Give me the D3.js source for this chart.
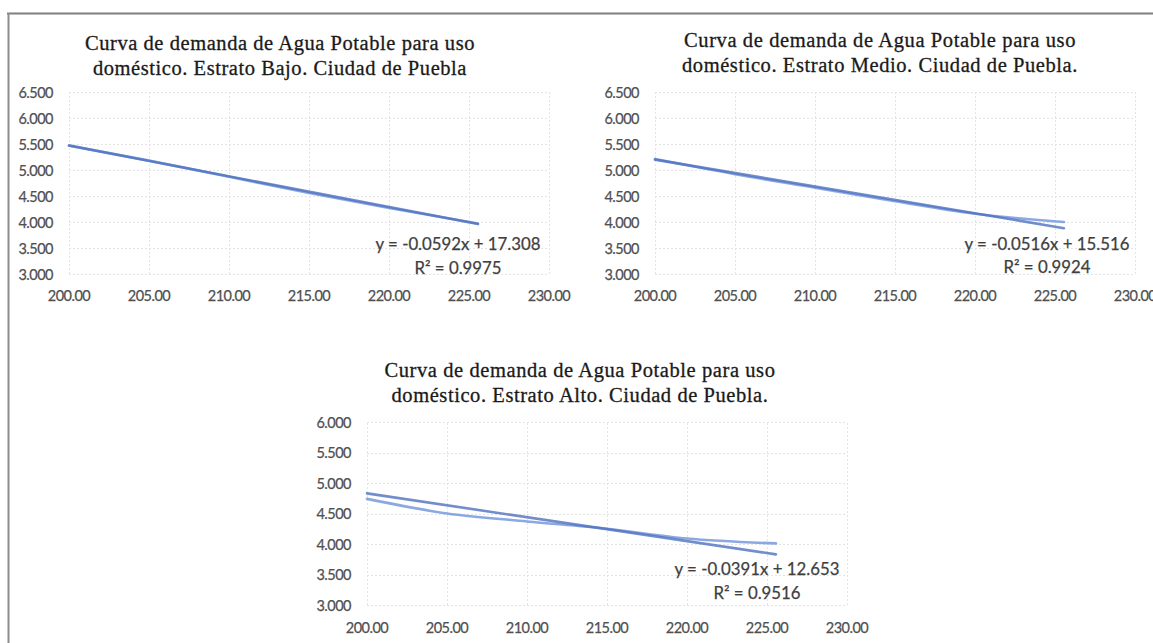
<!DOCTYPE html>
<html>
<head>
<meta charset="utf-8">
<script src="https://cdn.jsdelivr.net/npm/d3@7"></script>
<style>
  html, body { margin: 0; padding: 0; background: #fff; }
  svg { display: block; }
</style>
</head>
<body>
<svg id="chart" width="1153" height="643"></svg>
<script>
// ---------------- DATA ----------------
const xValues = [200, 205, 210, 215, 220, 225.56];
const bajoValues = [5.47, 5.18, 4.87, 4.56, 4.27, 3.97];
const medioValues = [5.21, 4.92, 4.66, 4.40, 4.16, 4.00];
const altoValues = [4.74, 4.50, 4.37, 4.25, 4.09, 4.01];

const trendX = [200, 225.56];
const bajoTrend = [5.47, 3.96];
const medioTrend = [5.20, 3.88];
const altoTrend = [4.83, 3.83];

const xTicks = [200, 205, 210, 215, 220, 225, 230];
const yTicksTop = [3.0, 3.5, 4.0, 4.5, 5.0, 5.5, 6.0, 6.5];
const yTicksBottom = [3.0, 3.5, 4.0, 4.5, 5.0, 5.5, 6.0];

const titles = [
  ["Curva de demanda de Agua Potable para uso", "doméstico. Estrato Bajo. Ciudad de Puebla"],
  ["Curva de demanda de Agua Potable para uso", "doméstico. Estrato Medio. Ciudad de Puebla."],
  ["Curva de demanda de Agua Potable para uso", "doméstico. Estrato Alto. Ciudad de Puebla."]
];
const equations = ["y = -0.0592x + 17.308", "y = -0.0516x + 15.516", "y = -0.0391x + 12.653"];
const rSquared = ["R² = 0.9975", "R² = 0.9924", "R² = 0.9516"];

// ---------------- LAYOUT ----------------
const charts = [
  { values: bajoValues, trend: bajoTrend, yTicks: yTicksTop, yMax: 6.5,
    px0: 69, px1: 549, py0: 274, py1: 92, xLabY: 295,
    titleX: 280, titleY: [50, 75], tw: [390, 374], eqX: 458, eqY: [243, 267], title: titles[0], eq: equations[0], r2: rSquared[0] },
  { values: medioValues, trend: medioTrend, yTicks: yTicksTop, yMax: 6.5,
    px0: 655, px1: 1135, py0: 274, py1: 92, xLabY: 295,
    titleX: 880, titleY: [47, 72], tw: [392, 396], eqX: 1047, eqY: [243, 266], title: titles[1], eq: equations[1], r2: rSquared[1] },
  { values: altoValues, trend: altoTrend, yTicks: yTicksBottom, yMax: 6.0,
    px0: 367, px1: 847, py0: 605, py1: 422, xLabY: 627,
    titleX: 580, titleY: [377, 402], tw: [391, 377], eqX: 757, eqY: [568, 592], title: titles[2], eq: equations[2], r2: rSquared[2] }
];

const svg = d3.select("#chart");

// frame lines
svg.append("line").attr("x1", 7).attr("x2", 1153).attr("y1", 13.5).attr("y2", 13.5)
  .attr("stroke", "#7f7f7f").attr("stroke-width", 2);
svg.append("line").attr("x1", 8.5).attr("x2", 8.5).attr("y1", 13).attr("y2", 643)
  .attr("stroke", "#8c8c8c").attr("stroke-width", 2);

const fmtY = d3.format(".3f");
const fmtX = d3.format(".2f");

function fitWidth(sel, target) {
  const w = sel.node().getComputedTextLength();
  const fs = parseFloat(sel.attr("font-size"));
  const nfs = fs * target / w;
  sel.attr("font-size", nfs);
  return nfs;
}
function fitSpacing(sel, target) {
  const w = sel.node().getComputedTextLength();
  const n = sel.text().length;
  sel.attr("letter-spacing", (target - w) / n);
}

const sansFont = "Lato, 'Open Sans', sans-serif";
const serifFont = "'Liberation Serif', 'Times New Roman', serif";

charts.forEach(c => {
  const g = svg.append("g");
  const x = d3.scaleLinear().domain([200, 230]).range([c.px0, c.px1]);
  const y = d3.scaleLinear().domain([3.0, c.yMax]).range([c.py0, c.py1]);

  // gridlines
  g.selectAll(".hg").data(c.yTicks).join("line")
    .attr("x1", c.px0).attr("x2", c.px1)
    .attr("y1", d => Math.round(y(d)) + 0.5).attr("y2", d => Math.round(y(d)) + 0.5)
    .attr("stroke", "#e4e4e4").attr("stroke-width", 1).attr("stroke-dasharray", "2,2");
  g.selectAll(".vg").data(xTicks).join("line")
    .attr("y1", c.py0).attr("y2", c.py1)
    .attr("x1", d => Math.round(x(d)) + 0.5).attr("x2", d => Math.round(x(d)) + 0.5)
    .attr("stroke", "#e4e4e4").attr("stroke-width", 1).attr("stroke-dasharray", "2,2");

  // y tick labels
  g.selectAll(".yl").data(c.yTicks).join("text")
    .attr("x", c.px0 - 16).attr("y", d => y(d))
    .attr("text-anchor", "end").attr("dominant-baseline", "central")
    .attr("font-family", sansFont).attr("font-size", 14.5)
    .attr("letter-spacing", -0.5)
    .attr("fill", "#505050").attr("stroke", "#505050").attr("stroke-width", 0.25)
    .text(d => fmtY(d));

  // x tick labels
  g.selectAll(".xl").data(xTicks).join("text")
    .attr("x", d => x(d)).attr("y", c.xLabY)
    .attr("text-anchor", "middle").attr("dominant-baseline", "central")
    .attr("font-family", sansFont).attr("font-size", 14.5)
    .attr("letter-spacing", -0.5)
    .attr("fill", "#505050").attr("stroke", "#505050").attr("stroke-width", 0.25)
    .text(d => fmtX(d));

  // data line
  const pts = xValues.map((xv, i) => [xv, c.values[i]]);
  const line = d3.line().x(d => x(d[0])).y(d => y(d[1])).curve(d3.curveMonotoneX);
  g.append("path").attr("d", line(pts)).attr("fill", "none")
    .attr("stroke", "#7f9fe0").attr("stroke-width", 2.6).attr("stroke-opacity", 0.9)
    .attr("stroke-linecap", "round");

  // trendline
  const tpts = trendX.map((xv, i) => [xv, c.trend[i]]);
  g.append("path").attr("d", d3.line().x(d => x(d[0])).y(d => y(d[1]))(tpts)).attr("fill", "none")
    .attr("stroke", "#4e70bf").attr("stroke-width", 2.6).attr("stroke-opacity", 0.8)
    .attr("stroke-linecap", "round");

  // title
  [0, 1].forEach(k => {
    const t = g.append("text").attr("x", c.titleX).attr("y", c.titleY[k])
      .attr("text-anchor", "middle").attr("font-family", serifFont)
      .attr("font-size", 20.5).attr("fill", "#1a1a1a")
      .attr("stroke", "#1a1a1a").attr("stroke-width", 0.3)
      .text(c.title[k]);
    fitSpacing(t, c.tw[k]);
  });

  // equation
  const e1 = g.append("text").attr("x", c.eqX).attr("y", c.eqY[0])
    .attr("text-anchor", "middle").attr("dominant-baseline", "central")
    .attr("font-family", sansFont).attr("font-size", 17)
    .attr("fill", "#3f3f3f").attr("stroke", "#3f3f3f").attr("stroke-width", 0.25).text(c.eq);
  const efs = fitWidth(e1, 165);
  g.append("text").attr("x", c.eqX).attr("y", c.eqY[1])
    .attr("text-anchor", "middle").attr("dominant-baseline", "central")
    .attr("font-family", sansFont).attr("font-size", efs)
    .attr("fill", "#3f3f3f").attr("stroke", "#3f3f3f").attr("stroke-width", 0.25).text(c.r2);
});
</script>
</body>
</html>
